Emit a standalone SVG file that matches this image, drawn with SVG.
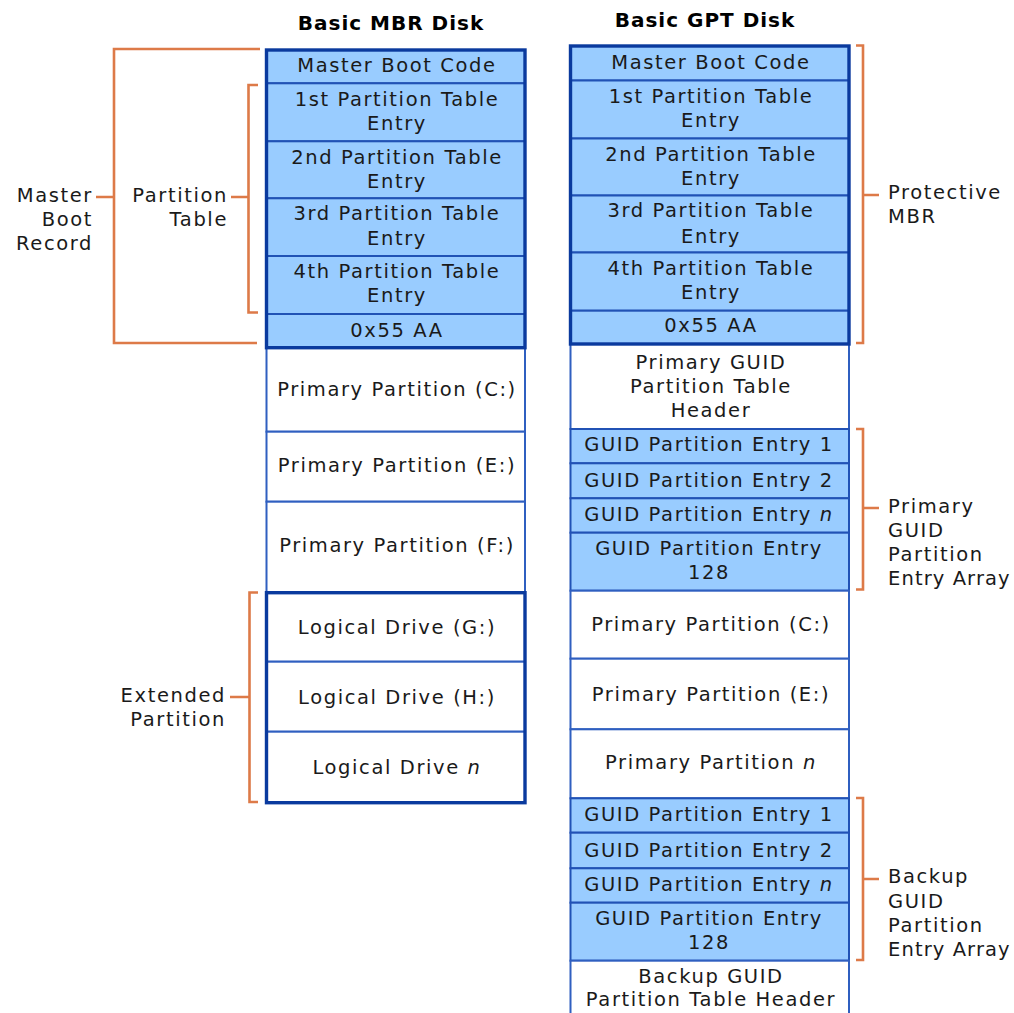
<svg xmlns="http://www.w3.org/2000/svg" width="1014" height="1013" viewBox="0 0 1014 1013">
<style>
text{font-family:"DejaVu Sans","Verdana",sans-serif;font-size:19.5px;letter-spacing:1.6px;fill:#1a1a1a}
.t{text-anchor:middle}
.r{text-anchor:end}
.rl{letter-spacing:1.1px}
.h{font-weight:bold;font-size:20px;letter-spacing:1px;text-anchor:middle;fill:#000}
.blue{fill:#99ccff;stroke:#2152b5;stroke-width:2}
.white{fill:#ffffff;stroke:#2f5fc0;stroke-width:2}
.thick{fill:none;stroke:#0a3a9e;stroke-width:3.4}
.br{fill:none;stroke:#dd7a48;stroke-width:2.6}
</style>
<rect width="1014" height="1013" fill="#fff"/>
<text class="h" x="391" y="30">Basic MBR Disk</text>
<text class="h" x="705" y="27">Basic GPT Disk</text>

<g id="mbr-disk">
<g id="mbr-mbc"><rect class="blue" x="266.5" y="50" width="258.5" height="33.3"/><text class="t" x="397" y="72">Master Boot Code</text></g>
<g id="mbr-pte1"><rect class="blue" x="266.5" y="83.3" width="258.5" height="58"/><text class="t" x="397" y="106">1st Partition Table</text><text class="t" x="397" y="130">Entry</text></g>
<g id="mbr-pte2"><rect class="blue" x="266.5" y="141.3" width="258.5" height="57"/><text class="t" x="397" y="164">2nd Partition Table</text><text class="t" x="397" y="188">Entry</text></g>
<g id="mbr-pte3"><rect class="blue" x="266.5" y="198.3" width="258.5" height="57.7"/><text class="t" x="397" y="220">3rd Partition Table</text><text class="t" x="397" y="245">Entry</text></g>
<g id="mbr-pte4"><rect class="blue" x="266.5" y="256" width="258.5" height="58"/><text class="t" x="397" y="278">4th Partition Table</text><text class="t" x="397" y="302">Entry</text></g>
<g id="mbr-sig"><rect class="blue" x="266.5" y="314" width="258.5" height="33.7"/><text class="t" x="397" y="337">0x55 AA</text></g>
<g id="mbr-c"><rect class="white" x="266.5" y="347.7" width="258.5" height="84"/><text class="t" x="397" y="396">Primary Partition (C:)</text></g>
<g id="mbr-e"><rect class="white" x="266.5" y="431.7" width="258.5" height="70"/><text class="t" x="397" y="472">Primary Partition (E:)</text></g>
<g id="mbr-f"><rect class="white" x="266.5" y="501.7" width="258.5" height="91"/><text class="t" x="397" y="552">Primary Partition (F:)</text></g>
<g id="mbr-g"><rect class="white" x="266.5" y="592.7" width="258.5" height="69"/><text class="t" x="397" y="634">Logical Drive (G:)</text></g>
<g id="mbr-h"><rect class="white" x="266.5" y="661.7" width="258.5" height="70"/><text class="t" x="397" y="704">Logical Drive (H:)</text></g>
<g id="mbr-n"><rect class="white" x="266.5" y="731.7" width="258.5" height="71"/><text class="t" x="397" y="774">Logical Drive <tspan font-style="italic">n</tspan></text></g>
<rect class="thick" x="266.5" y="50" width="258.5" height="297.7"/>
<rect class="thick" x="266.5" y="592.7" width="258.5" height="210"/>
</g>

<g id="gpt-disk">
<g id="gpt-mbc"><rect class="blue" x="570.5" y="46" width="278.5" height="34.5"/><text class="t" x="711" y="69">Master Boot Code</text></g>
<g id="gpt-pte1"><rect class="blue" x="570.5" y="80.5" width="278.5" height="58"/><text class="t" x="711" y="103">1st Partition Table</text><text class="t" x="711" y="127">Entry</text></g>
<g id="gpt-pte2"><rect class="blue" x="570.5" y="138.5" width="278.5" height="57"/><text class="t" x="711" y="161">2nd Partition Table</text><text class="t" x="711" y="185">Entry</text></g>
<g id="gpt-pte3"><rect class="blue" x="570.5" y="195.5" width="278.5" height="57"/><text class="t" x="711" y="217">3rd Partition Table</text><text class="t" x="711" y="243">Entry</text></g>
<g id="gpt-pte4"><rect class="blue" x="570.5" y="252.5" width="278.5" height="58.2"/><text class="t" x="711" y="275">4th Partition Table</text><text class="t" x="711" y="299">Entry</text></g>
<g id="gpt-sig"><rect class="blue" x="570.5" y="310.7" width="278.5" height="33.3"/><text class="t" x="711" y="332">0x55 AA</text></g>
<g id="gpt-hdr"><rect class="white" x="570.5" y="344" width="278.5" height="85"/><text class="t" x="711" y="369">Primary GUID</text><text class="t" x="711" y="393">Partition Table</text><text class="t" x="711" y="417">Header</text></g>
<g id="gpt-e1"><rect class="blue" x="570.5" y="429" width="278.5" height="34.3"/><text class="t" x="709" y="451">GUID Partition Entry 1</text></g>
<g id="gpt-e2"><rect class="blue" x="570.5" y="463.3" width="278.5" height="35"/><text class="t" x="709" y="487">GUID Partition Entry 2</text></g>
<g id="gpt-en"><rect class="blue" x="570.5" y="498.3" width="278.5" height="34.4"/><text class="t" x="709" y="521">GUID Partition Entry <tspan font-style="italic">n</tspan></text></g>
<g id="gpt-e128"><rect class="blue" x="570.5" y="532.7" width="278.5" height="58"/><text class="t" x="709" y="555">GUID Partition Entry</text><text class="t" x="709" y="579">128</text></g>
<g id="gpt-c"><rect class="white" x="570.5" y="590.7" width="278.5" height="68"/><text class="t" x="711" y="631">Primary Partition (C:)</text></g>
<g id="gpt-e"><rect class="white" x="570.5" y="658.7" width="278.5" height="70.6"/><text class="t" x="711" y="701">Primary Partition (E:)</text></g>
<g id="gpt-pn"><rect class="white" x="570.5" y="729.3" width="278.5" height="69"/><text class="t" x="711" y="769">Primary Partition <tspan font-style="italic">n</tspan></text></g>
<g id="gpt-b1"><rect class="blue" x="570.5" y="798.3" width="278.5" height="34.4"/><text class="t" x="709" y="821">GUID Partition Entry 1</text></g>
<g id="gpt-b2"><rect class="blue" x="570.5" y="832.7" width="278.5" height="35.6"/><text class="t" x="709" y="857">GUID Partition Entry 2</text></g>
<g id="gpt-bn"><rect class="blue" x="570.5" y="868.3" width="278.5" height="34.4"/><text class="t" x="709" y="891">GUID Partition Entry <tspan font-style="italic">n</tspan></text></g>
<g id="gpt-b128"><rect class="blue" x="570.5" y="902.7" width="278.5" height="58"/><text class="t" x="709" y="925">GUID Partition Entry</text><text class="t" x="709" y="949">128</text></g>
<g id="gpt-bhdr"><rect class="white" x="570.5" y="960.7" width="278.5" height="70"/><text class="t" x="711" y="983">Backup GUID</text><text class="t" x="711" y="1006">Partition Table Header</text></g>
<rect class="thick" x="570.5" y="46" width="278.5" height="298"/>
</g>

<g id="labels">
<g id="lbl-mbr"><text class="r" x="93" y="202">Master</text><text class="r" x="93" y="226">Boot</text><text class="r" x="93" y="250">Record</text></g>
<g id="lbl-pt"><text class="r" x="228" y="202">Partition</text><text class="r" x="228" y="226">Table</text></g>
<g id="lbl-ext"><text class="r" x="226" y="702">Extended</text><text class="r" x="226" y="726">Partition</text></g>
<g id="lbl-pmbr" class="rl"><text x="888" y="199">Protective</text><text x="888" y="223">MBR</text></g>
<g id="lbl-pgpea"><text x="888" y="513">Primary</text><text x="888" y="537">GUID</text><text x="888" y="561">Partition</text><text class="rl" x="888" y="585">Entry Array</text></g>
<g id="lbl-bgpea"><text x="888" y="883">Backup</text><text x="888" y="908">GUID</text><text x="888" y="932">Partition</text><text class="rl" x="888" y="956">Entry Array</text></g>
</g>

<g id="connectors">
<path class="br" d="M260,49 H114 V343 H257 M114,197 H96"/>
<path class="br" d="M258,85 H248.5 V312.5 H258 M248.5,197 H231"/>
<path class="br" d="M258,592.5 H249.5 V802 H258 M249.5,697 H230"/>
<path class="br" d="M856,45.5 H863 V343 H856 M863,195 H879"/>
<path class="br" d="M856,429 H863 V589.5 H856 M863,508 H879"/>
<path class="br" d="M856,798 H863 V960 H856 M863,879 H879"/>
</g>
</svg>
